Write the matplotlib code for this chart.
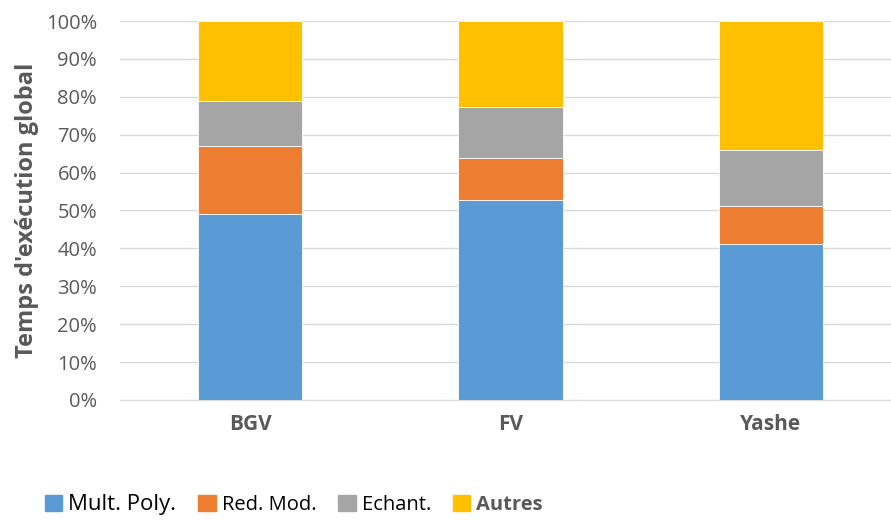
import numpy as np
import matplotlib.pyplot as plt
from matplotlib.patches import Patch

# Données
schemas = ["BGV", "FV", "Yashe"]
mult_poly = [49.0, 52.8, 41.1]
red_mod = [17.9, 11.0, 10.1]
echant = [12.1, 13.6, 14.7]
autres = [21.0, 22.6, 34.1]

series = [("Mult. Poly.", mult_poly, "#5B9BD5"),
          ("Red. Mod.", red_mod, "#ED7D31"),
          ("Echant.", echant, "#A5A5A5"),
          ("Autres", autres, "#FFC000")]

plt.rcParams['font.family'] = ['Open Sans', 'DejaVu Sans']

fig = plt.figure(figsize=(8.91, 5.2), dpi=100)
ax = fig.add_axes([0.1347, 0.2308, 0.8765, 0.7288])

x = np.arange(len(schemas))
bas = np.zeros(len(schemas))
for nom, vals, couleur in series:
    ax.bar(x, vals, 0.4, bottom=bas, color=couleur, edgecolor="white",
           linewidth=0.6, zorder=3, label=nom)
    bas += np.array(vals)

ax.set_xlim(-0.5, 2.5)
ax.set_ylim(0, 100)
ax.set_yticks(np.arange(0, 101, 10))
ax.set_yticklabels([f"{v}%" for v in range(0, 101, 10)], fontsize=14.5, color="#595959")
ax.set_xticks(x)
ax.set_xticklabels(schemas, fontsize=15, fontweight="bold", color="#595959")
ax.tick_params(length=0)
ax.tick_params(axis="x", pad=10)
ax.tick_params(axis="y", pad=16.5)
ax.grid(axis="y", color="#D9D9D9", linewidth=1, zorder=0)
for s in ["top", "right", "left"]:
    ax.spines[s].set_visible(False)
ax.spines["bottom"].set_color("#D9D9D9")
ax.set_ylabel("Temps d'exécution global", fontsize=17, fontweight="bold",
              color="#595959", labelpad=5)

handles = [Patch(color=c) for _, _, c in series]
leg = fig.legend(handles, [n for n, _, _ in series], loc="center",
                 bbox_to_anchor=(0.33, 0.029), ncol=4, frameon=False,
                 handlelength=0.85, handleheight=0.85, handletextpad=0.3,
                 columnspacing=1.1, fontsize=14.5)
txt = leg.get_texts()
txt[0].set_fontsize(16)
txt[3].set_fontweight("bold")
txt[3].set_color("#595959")

fig.savefig("out.png", dpi=100)
